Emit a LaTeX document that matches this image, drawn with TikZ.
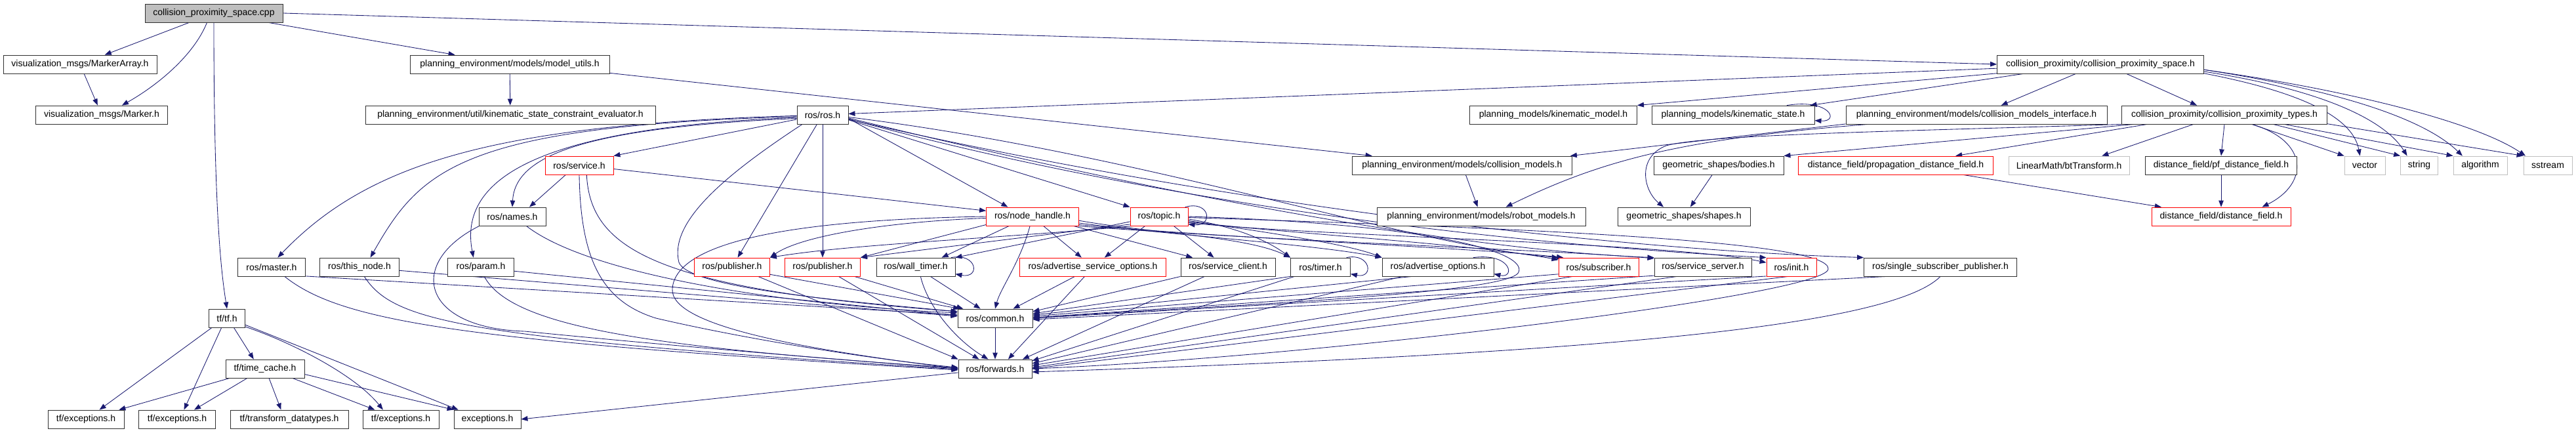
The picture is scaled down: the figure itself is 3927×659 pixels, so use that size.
\documentclass[tikz,border=0pt]{standalone}
\usepackage{fontspec}
\setmainfont{Liberation Sans}
\usetikzlibrary{arrows.meta}
\definecolor{edgeblue}{HTML}{191970}
\definecolor{sysgray}{HTML}{BFBFBF}
\definecolor{redb}{HTML}{FF0000}
\definecolor{bord}{HTML}{303030}
\pgfdeclarelayer{back}
\pgfdeclarelayer{edges}
\pgfsetlayers{back,edges,main}
\tikzset{
 hdr/.style={draw=bord, line width=0.85pt, fill=white, minimum height=28pt, inner sep=0pt, font=\fontsize{14}{16}\selectfont, anchor=center},
 redh/.style={hdr, draw=redb},
 sysh/.style={hdr, draw=sysgray},
 rooth/.style={hdr, fill=sysgray},
 e/.style={draw=edgeblue, line width=0.85pt, -{Triangle[length=10pt,width=7.5pt]}},
}
\begin{document}
\begin{tikzpicture}[x=1pt,y=-1pt]
\useasboundingbox (0,0) rectangle (3927,659);
\begin{pgfonlayer}{back}
\fill[white] (0,0) rectangle (3927,659);
\end{pgfonlayer}
% nodes
\node[rooth, minimum width=210pt] (cpp) at (326,20) {collision\_proximity\_space.cpp};
\node[hdr, minimum width=234pt] (marr) at (122,98) {visualization\_msgs/MarkerArray.h};
\node[hdr, minimum width=201pt] (mark) at (155,175) {visualization\_msgs/Marker.h};
\node[hdr, minimum width=304pt] (mutil) at (777,98) {planning\_environment/models/model\_utils.h};
\node[hdr, minimum width=442pt] (kse) at (778,175) {planning\_environment/util/kinematic\_state\_constraint\_evaluator.h};
\node[hdr, minimum width=315pt] (cps) at (3202,98) {collision\_proximity/collision\_proximity\_space.h};
\node[hdr, minimum width=78pt] (ros) at (1254,175) {ros/ros.h};
\node[hdr, minimum width=255pt] (kmod) at (2368,175) {planning\_models/kinematic\_model.h};
\node[hdr, minimum width=248pt] (kst) at (2642,175) {planning\_models/kinematic\_state.h};
\node[hdr, minimum width=398pt] (cmi) at (3013,175) {planning\_environment/models/collision\_models\_interface.h};
\node[hdr, minimum width=313pt] (cpt) at (3391,175) {collision\_proximity/collision\_proximity\_types.h};
\node[redh, minimum width=104pt] (srv) at (883,252) {ros/service.h};
\node[hdr, minimum width=335pt] (cmod) at (2229,252) {planning\_environment/models/collision\_models.h};
\node[hdr, minimum width=198pt] (bod) at (2620,252) {geometric\_shapes/bodies.h};
\node[redh, minimum width=297pt] (pdf) at (2890,252) {distance\_field/propagation\_distance\_field.h};
\node[sysh, minimum width=184pt] (bt) at (3154,252) {LinearMath/btTransform.h};
\node[hdr, minimum width=231pt] (pfdf) at (3386,252) {distance\_field/pf\_distance\_field.h};
\node[sysh, minimum width=62pt] (vec) at (3605,252) {vector};
\node[sysh, minimum width=57pt] (str) at (3688,252) {string};
\node[sysh, minimum width=82pt] (alg) at (3781,252) {algorithm};
\node[sysh, minimum width=74pt] (sst) at (3884,252) {sstream};
\node[hdr, minimum width=102pt] (names) at (781,330) {ros/names.h};
\node[redh, minimum width=141pt] (nh) at (1574,330) {ros/node\_handle.h};
\node[redh, minimum width=88pt] (topic) at (1767,330) {ros/topic.h};
\node[hdr, minimum width=318pt] (rmod) at (2258,330) {planning\_environment/models/robot\_models.h};
\node[hdr, minimum width=202pt] (shp) at (2567,330) {geometric\_shapes/shapes.h};
\node[redh, minimum width=212pt] (df) at (3386,330) {distance\_field/distance\_field.h};
\node[hdr, minimum width=103pt] (master) at (414,407) {ros/master.h};
\node[hdr, minimum width=121pt] (tnode) at (548,407) {ros/this\_node.h};
\node[hdr, minimum width=101pt] (param) at (733,407) {ros/param.h};
\node[redh, minimum width=115pt] (pubA) at (1116,407) {ros/publisher.h};
\node[redh, minimum width=115pt] (pubB) at (1254,407) {ros/publisher.h};
\node[hdr, minimum width=120pt] (wt) at (1396,407) {ros/wall\_timer.h};
\node[redh, minimum width=223pt] (aso) at (1666,407) {ros/advertise\_service\_options.h};
\node[hdr, minimum width=144pt] (scl) at (1872,407) {ros/service\_client.h};
\node[hdr, minimum width=91pt] (timer) at (2013,407) {ros/timer.h};
\node[hdr, minimum width=170pt] (aop) at (2192,407) {ros/advertise\_options.h};
\node[redh, minimum width=122pt] (sub) at (2437,407) {ros/subscriber.h};
\node[hdr, minimum width=148pt] (ssrv) at (2596,407) {ros/service\_server.h};
\node[redh, minimum width=76pt] (init) at (2731,407) {ros/init.h};
\node[hdr, minimum width=233pt] (ssp) at (2958,407) {ros/single\_subscriber\_publisher.h};
\node[hdr, minimum width=55pt] (tf) at (346,485) {tf/tf.h};
\node[hdr, minimum width=114pt] (common) at (1517,485) {ros/common.h};
\node[hdr, minimum width=120pt] (tc) at (404,562) {tf/time\_cache.h};
\node[hdr, minimum width=112pt] (fwd) at (1517,562) {ros/forwards.h};
\node[hdr, minimum width=116pt] (tx1) at (131,639) {tf/exceptions.h};
\node[hdr, minimum width=117pt] (tx2) at (270,639) {tf/exceptions.h};
\node[hdr, minimum width=180pt] (ttd) at (441,639) {tf/transform\_datatypes.h};
\node[hdr, minimum width=116pt] (tx3) at (611,639) {tf/exceptions.h};
\node[hdr, minimum width=102pt] (exc) at (743,639) {exceptions.h};

\begin{pgfonlayer}{edges}
% top
\draw[e] (cpp) -- (marr);
\draw[e] (cpp.234) .. controls (295,85) and (240,130) .. (mark.25);
\draw[e] (cpp.south) .. controls (326,330) and (338,420) .. (tf.north);
\draw[e] (cpp) -- (mutil);
\draw[e] (cpp.east) -- (cps.west);
\draw[e] (marr) -- (mark);
\draw[e] (mutil) -- (kse);
\draw[e] (mutil.-5.8) -- (cmod.174);
% cps
\draw[e] (cps) -- (ros);
\draw[e] (cps.185) -- (kmod.north east);
\draw[e] (cps.187.5) -- (kst.7.9);
\draw[e] (cps.201) -- (cmi.21);
\draw[e] (cps.-20) -- (cpt.161);
\draw[e] (cps.-5.75) .. controls (3480,135) and (3585,170) .. (vec.117);
\draw[e] (cps.-4.4) .. controls (3560,140) and (3640,190) .. (str.142);
\draw[e] (cps.-3.6) .. controls (3580,140) and (3700,185) .. (alg.152);
\draw[e] (cps.-3.3) .. controls (3600,140) and (3780,190) .. (sst.157);
\draw[e] (kst.10.4) .. controls (2790,150) and (2805,186) .. (kst.-4);
% cpt
\draw[e] (cpt.186.6) -- (bod.north east);
\draw[e] (cpt.187) -- (pdf.9);
\draw[e] (cpt.197) -- (bt.16);
\draw[e] (cpt.south) -- (pfdf.north);
\draw[e] (cpt.-19) .. controls (3520,215) and (3520,280) .. (df.13);
\draw[e] (cpt.-19) -- (vec.north west);
\draw[e] (cpt.-11) -- (str.north west);
\draw[e] (cpt.-9) -- (alg.north west);
\draw[e] (cpt.-5.7) -- (sst.north west);
\draw[e] (cpt.south west) .. controls (2900,200) and (2600,205) .. (2540,222) .. controls (2495,240) and (2505,290) .. (shp.155);
% cmi
\draw[e] (cmi.184.4) -- (cmod.5.8);
\draw[e] (cmi.185) .. controls (2560,212) and (2440,245) .. (rmod.21);
\draw[e] (cmod) -- (rmod);
\draw[e] (bod) -- (shp);
\draw[e] (pdf.-8.4) -- (df.171);
\draw[e] (pfdf) -- (df);
% ros left
\draw[e] (ros.182) .. controls (750,190) and (560,250) .. (master.57);
\draw[e] (ros.184) .. controls (700,192) and (640,260) .. (tnode.41);
\draw[e] (ros.186) .. controls (800,195) and (700,280) .. (param.128);
\draw[e] (ros.188) .. controls (880,195) and (785,240) .. (names.north);
\draw[e] (ros.190) -- (srv.north east);
% ros down/right
\draw[e] (ros) -- (pubA);
\draw[e] (ros) -- (pubB);
\draw[e] (ros.-8) -- (nh.159);
\draw[e] (ros.-11) -- (topic.north west);
\draw[e] (ros.205) .. controls (1100,270) and (1020,340) .. (1035,400) .. controls (1050,440) and (1300,460) .. (common.170);
\draw[e] (ros.-5) .. controls (1750,235) and (2150,375) .. (sub.north west);
\draw[e] (ros.-7) .. controls (1700,280) and (2200,380) .. (ssrv.north west);
\draw[e] (ros.-9) .. controls (1800,320) and (2350,375) .. (init.north west);
\draw[e] (ros.-10) .. controls (1850,310) and (2450,380) .. (ssp.north west);
% service
\draw[e] (srv.215) -- (names.29);
\draw[e] (srv.-6.6) -- (nh.173.5);
% node_handle
\draw[e] (nh.202) -- (wt.20);
\draw[e] (nh.255) .. controls (1555,400) and (1525,440) .. (common.north);
\draw[e] (nh.-41) -- (aso.140);
\draw[e] (nh.-13.6) -- (scl.165);
\draw[e] (nh.190) -- (pubB.north east);
\draw[e] (nh.182) .. controls (1350,338) and (1220,360) .. (pubA.north east);
\draw[e] (nh.-5) .. controls (1750,355) and (1900,360) .. (timer.north west);
\draw[e] (nh.-8) .. controls (1800,360) and (2000,372) .. (aop.north west);
\draw[e] (nh.-10) .. controls (1900,365) and (2250,378) .. (sub.165);
\draw[e] (nh.-12) .. controls (1950,368) and (2350,380) .. (ssrv.170);
\draw[e] (nh.west) .. controls (1200,335) and (1030,370) .. (1025,440) .. controls (1020,500) and (1250,535) .. (fwd.west);
% topic
\draw[e] (topic.214) -- (aso.39.5);
\draw[e] (topic.-33.7) -- (scl.146);
\draw[e] (topic.190) -- (wt.north east);
\draw[e] (topic.195) -- (pubB.north east);
\draw[e] (topic.200) .. controls (1500,365) and (1300,372) .. (pubA.north east);
\draw[e] (topic.20) .. controls (1845,305) and (1850,345) .. (topic.-15);
\draw[e] (topic.-5) .. controls (1880,345) and (1930,365) .. (timer.north west);
\draw[e] (topic.-8) .. controls (1900,350) and (2050,370) .. (aop.north west);
\draw[e] (topic.-10) .. controls (1950,355) and (2250,372) .. (sub.170);
\draw[e] (topic.-12) .. controls (2000,360) and (2550,370) .. (init.170);
\draw[e] (topic.east) .. controls (2150,340) and (2330,380) .. (2315,415) .. controls (2300,450) and (1800,468) .. (common.east);
\draw[e] (topic.-2) .. controls (2400,350) and (2790,370) .. (2787,410) .. controls (2785,450) and (2000,545) .. (fwd.east);
% self loops
\draw[e] (wt.15) .. controls (1490,385) and (1495,425) .. (wt.-10);
\draw[e] (timer.20) .. controls (2090,385) and (2095,425) .. (timer.-13.6);
\draw[e] (aop.15) .. controls (2305,385) and (2310,425) .. (aop.-7.4);
% into common
\draw[e] (master.-15) -- (common.175);
\draw[e] (tnode.-5.7) -- (common.177);
\draw[e] (param.-7) -- (common.176);
\draw[e] (names.-34) .. controls (900,420) and (1200,465) .. (common.172);
\draw[e] (srv.-52) .. controls (900,380) and (1000,440) .. (common.170);
\draw[e] (pubA.-11) -- (common.165);
\draw[e] (pubB) -- (common);
\draw[e] (wt) -- (common);
\draw[e] (aso) -- (common);
\draw[e] (scl.south west) -- (common.10);
\draw[e] (timer.south west) -- (common.7);
\draw[e] (aop.200) -- (common.5);
\draw[e] (sub.190) -- (common.3);
\draw[e] (ssrv.190) -- (common.1);
\draw[e] (init.200) -- (common.0);
\draw[e] (ssp.190) -- (common.-2);
% into forwards
\draw[e] (master.-36) .. controls (520,490) and (700,520) .. (fwd.182);
\draw[e] (tnode.-63) .. controls (600,490) and (700,515) .. (fwd.181);
\draw[e] (param.-70) .. controls (780,500) and (1000,530) .. (fwd.179);
\draw[e] (names.196) .. controls (620,400) and (640,500) .. (800,505) .. controls (1000,525) and (1300,550) .. (fwd.180);
\draw[e] (srv.south) .. controls (885,400) and (920,460) .. (1000,485) .. controls (1150,520) and (1350,550) .. (fwd.178);
\draw[e] (pubA.-20) -- (fwd.north west);
\draw[e] (pubB) -- (fwd);
\draw[e] (wt.-63) .. controls (1415,470) and (1460,520) .. (fwd.126);
\draw[e] (aso.229) -- (fwd.36);
\draw[e] (scl.202) -- (fwd.19);
\draw[e] (timer.200) -- (fwd.12);
\draw[e] (aop.195) -- (fwd.8);
\draw[e] (sub.200) -- (fwd.5);
\draw[e] (ssrv.200) -- (fwd.2);
\draw[e] (init.250) -- (fwd.0);
\draw[e] (ssp.south) .. controls (2880,500) and (2400,540) .. (fwd.-5);
\draw[e] (common) -- (fwd);
\draw[e] (fwd.186) -- (exc.east);
% tf
\draw[e] (tf.212) -- (tx1.35);
\draw[e] (tf.240) -- (tx2.54);
\draw[e] (tf.-54) -- (tc.140);
\draw[e] (tf.-25) .. controls (440,520) and (540,570) .. (tx3.152);
\draw[e] (tf.-20) -- (exc.162);
\draw[e] (tc.195) -- (tx1.16);
\draw[e] (tc.208) -- (tx2.29);
\draw[e] (tc.-67) -- (ttd.131);
\draw[e] (tc.-19) -- (tx3.160);
\draw[e] (tc.-8.5) -- (exc.north west);
\end{pgfonlayer}
\end{tikzpicture}
\end{document}
